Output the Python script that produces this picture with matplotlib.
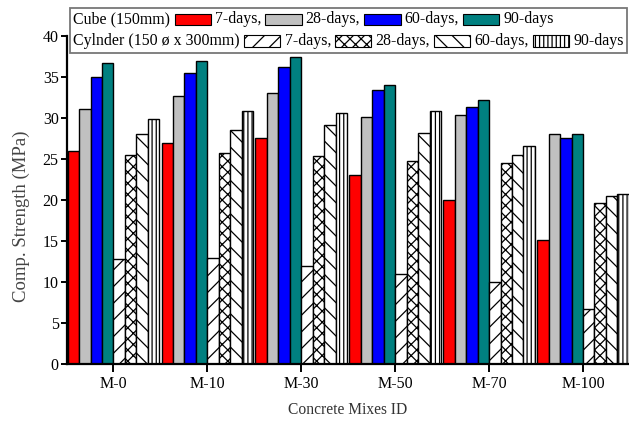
import numpy as np
import matplotlib
matplotlib.use("Agg")
import matplotlib.pyplot as plt
from matplotlib.patches import Rectangle
from matplotlib.offsetbox import TextArea, DrawingArea, HPacker, VPacker, AnchoredOffsetbox

plt.rcParams['font.family'] = 'Liberation Serif'
plt.rcParams['hatch.linewidth'] = 0.9

# Compressive strength (MPa) for each mix
mixes = ['M-0', 'M-10', 'M-30', 'M-50', 'M-70', 'M-100']
ages = ['7-days,', '28-days,', '60-days,', '90-days']

cube_7 = [26.0, 26.9, 27.6, 23.0, 20.0, 15.1]
cube_28 = [31.1, 32.7, 33.1, 30.1, 30.4, 28.1]
cube_60 = [35.0, 35.5, 36.2, 33.4, 31.3, 27.6]
cube_90 = [36.7, 36.9, 37.4, 34.0, 32.2, 28.1]

cyl_7 = [12.8, 12.9, 11.9, 11.0, 10.0, 6.7]
cyl_28 = [25.5, 25.7, 25.4, 24.8, 24.5, 19.6]
cyl_60 = [28.1, 28.6, 29.1, 28.2, 25.5, 20.5]
cyl_90 = [29.9, 30.8, 30.6, 30.9, 26.6, 20.7]

cube_colors = ['#ff0000', '#c0c0c0', '#0000ff', '#008080']
cyl_hatches = ['//', 'xxx', '\\\\', '||||']

fig = plt.figure(figsize=(6.29, 4.21), dpi=100)
ax = fig.add_axes([0.1065, 0.1354, 0.8935, 0.779])

x = np.arange(len(mixes))
w = 0.122
series = [cube_7, cube_28, cube_60, cube_90, cyl_7, cyl_28, cyl_60, cyl_90]
for k, vals in enumerate(series):
    pos = x + (k - 3.5) * w
    if k < 4:
        ax.bar(pos, vals, w, color=cube_colors[k], edgecolor='black', linewidth=1.0)
    else:
        ax.bar(pos, vals, w, color='white', edgecolor='black', linewidth=1.0,
               hatch=cyl_hatches[k - 4])

ax.set_xlim(-0.495, 5.49)
ax.set_ylim(0, 40)
ax.set_yticks(np.arange(0, 41, 5))
ax.set_xticks(x)
ax.set_xticklabels(mixes)
for s in ['top', 'right']:
    ax.spines[s].set_visible(False)
for s in ['left', 'bottom']:
    ax.spines[s].set_linewidth(1.6)
ax.tick_params(axis='both', direction='out', width=1.4, labelsize=11.5, colors='black')
ax.tick_params(axis='y', length=4, pad=2)
ax.tick_params(axis='x', length=6, pad=3)
ax.set_ylabel('Comp. Strength (MPa)', fontsize=13.5, color='#444444',
              va='center')
ax.yaxis.set_label_coords(-0.082, 0.45)
ax.set_xlabel('Concrete Mixes ID', fontsize=11.2, color='#333333', labelpad=7)


def swatch(fc, hatch=None):
    da = DrawingArea(26, 8, 0, 0)
    da.add_artist(Rectangle((0, 0), 26, 8, facecolor=fc, edgecolor='black',
                            hatch=hatch, linewidth=0.8))
    return da


def legend_row(title, colors=None, hatches=None):
    items = [TextArea(title, textprops=dict(fontsize=11.4))]
    for i, lab in enumerate(ages):
        if colors is not None:
            items.append(swatch(colors[i]))
        else:
            items.append(swatch('white', hatches[i]))
        items.append(TextArea(lab, textprops=dict(fontsize=11.4)))
    return HPacker(children=items, align='center', pad=0, sep=3)


rows = VPacker(children=[legend_row('Cube (150mm)', colors=cube_colors),
                         legend_row('Cylnder (150 ø x 300mm)', hatches=cyl_hatches)],
               align='left', pad=0, sep=4)
box = AnchoredOffsetbox(loc='upper left', child=rows, pad=0.25, borderpad=0,
                        frameon=True, bbox_to_anchor=(70 / 629, 1 - 8 / 421),
                        bbox_transform=fig.transFigure)
box.patch.set_edgecolor('#777777')
box.patch.set_linewidth(1.3)
box.patch.set_boxstyle('square', pad=0)
ax.add_artist(box)

fig.savefig('out.png', dpi=100)
